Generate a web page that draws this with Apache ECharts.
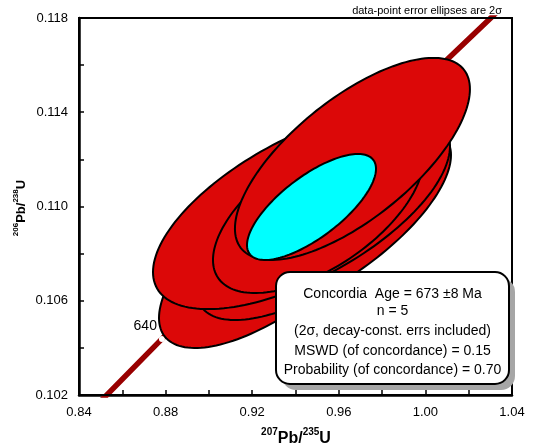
<!DOCTYPE html>
<html>
<head>
<meta charset="utf-8">
<script src="https://cdn.jsdelivr.net/npm/echarts@6/dist/echarts.min.js"></script>
<style>
  html, body { margin: 0; padding: 0; background: #fff; }
  #chart { width: 545px; height: 447px; }
</style>
</head>
<body>
<div id="chart"></div>
<script>
const FONT = '"Liberation Sans", Arial, Helvetica, sans-serif';

// Axis ranges
const xRange = [0.84, 1.04];
const yRange = [0.102, 0.118];

// Concordia curve (age in Ma, 207Pb/235U, 206Pb/238U)
const concAges = [600, 620, 640, 660, 680, 700, 720, 740];
const concX = [0.8057, 0.8416, 0.8783, 0.9155, 0.9536, 0.9925, 1.0321, 1.0726];
const concY = [0.09754, 0.10095, 0.10438, 0.10781, 0.11125, 0.11470, 0.11817, 0.12164];
const labelledAges = [640];

// Data-point error ellipses (2 sigma): centre, half-extent and correlation
const ellX   = [0.93238, 0.95316, 0.94277, 0.95039, 0.96630];
const ellSX  = [0.05543, 0.05866, 0.06859, 0.04850, 0.05427];
const ellY   = [0.10824, 0.10930, 0.10989, 0.10983, 0.11202];
const ellSY  = [0.004244, 0.004117, 0.004244, 0.003501, 0.004287];
const ellRho = [0.70, 0.70, 0.63, 0.60, 0.69];

// Concordia age ellipse
const ageX = [0.94739], ageSX = [0.02979], ageY = [0.10998], ageSY = [0.002249], ageRho = [0.72];

// Result box text
const resultLines = [
  'Concordia  Age = 673 \u00b18 Ma',
  'n = 5',
  '(2\u03c3, decay-const. errs included)',
  'MSWD (of concordance) = 0.15',
  'Probability (of concordance) = 0.70'
];
const noteText = 'data-point error ellipses are 2\u03c3';

const concData = concX.map((x, i) => [x, concY[i]]);
const tickData = labelledAges.map(a => {
  const i = concAges.indexOf(a);
  return { value: [concX[i], concY[i]], name: String(a) };
});
const ellData = ellX.map((x, i) => [x, ellSX[i], ellY[i], ellSY[i], ellRho[i]]);
const ageData = ageX.map((x, i) => [x, ageSX[i], ageY[i], ageSY[i], ageRho[i]]);

function ellipseRenderer(fill) {
  return function (params, api) {
    const x0 = api.value(0), sx = api.value(1), y0 = api.value(2), sy = api.value(3), r = api.value(4);
    const k = Math.sqrt(1 - r * r);
    const pts = [];
    const N = 160;
    for (let i = 0; i < N; i++) {
      const t = i / N * 2 * Math.PI;
      pts.push(api.coord([x0 + sx * Math.cos(t), y0 + sy * (r * Math.cos(t) + k * Math.sin(t))]));
    }
    return {
      type: 'polygon',
      shape: { points: pts },
      z2: params.dataIndex,
      style: { fill: fill, stroke: '#000', lineWidth: 2 }
    };
  };
}

const chart = echarts.init(document.getElementById('chart'), null, { renderer: 'canvas' });

const boxL = 276, boxT = 272, boxW = 233, boxH = 112;

chart.setOption({
  animation: false,
  backgroundColor: '#fff',
  grid: { left: 79, top: 18, right: 33, bottom: 52, show: false },
  xAxis: {
    type: 'value', min: xRange[0], max: xRange[1], interval: 0.02,
    axisLine: { show: true, lineStyle: { color: '#000', width: 2.5 } },
    axisTick: { show: true, inside: true, length: 5, lineStyle: { color: '#000', width: 1.5 } },
    axisLabel: {
      color: '#000', fontFamily: FONT, fontSize: 13, margin: 11,
      formatter: v => (Math.round(v * 100) % 4 === 0 ? v.toFixed(2) : '')
    },
    splitLine: { show: false }
  },
  yAxis: {
    type: 'value', min: yRange[0], max: yRange[1], interval: 0.002,
    axisLine: { show: true, lineStyle: { color: '#000', width: 2.5 } },
    axisTick: { show: true, inside: true, length: 5, lineStyle: { color: '#000', width: 1.5 } },
    axisLabel: {
      color: '#000', fontFamily: FONT, fontSize: 13, margin: 11,
      formatter: v => (Math.round(v * 1000) % 4 === 2 ? v.toFixed(3) : '')
    },
    splitLine: { show: false }
  },
  series: [
    {
      type: 'line', data: concData, showSymbol: false, symbol: 'none', clip: true,
      lineStyle: { color: '#990000', width: 5.5 }, z: 2, silent: true
    },
    {
      type: 'scatter', data: tickData, symbol: 'circle', symbolSize: 6, clip: true,
      itemStyle: { color: '#fff', borderWidth: 0, opacity: 1 }, z: 3,
      label: {
        show: true, position: 'left', distance: 2, offset: [0, -13],
        formatter: p => p.name, color: '#000', fontFamily: FONT, fontSize: 14, opacity: 1
      }
    },
    {
      type: 'custom', data: ellData, renderItem: ellipseRenderer('#dc0808'), clip: true, z: 4,
      encode: { x: 0, y: 2 }
    },
    {
      type: 'custom', data: ageData, renderItem: ellipseRenderer('#00ffff'), clip: true, z: 5,
      encode: { x: 0, y: 2 }
    }
  ],
  graphic: [
    // plot frame (top and right edges)
    { type: 'rect', z: 10, shape: { x: 79, y: 18, width: 433, height: 377 },
      style: { fill: 'none', stroke: '#000', lineWidth: 2 }, silent: true },
    // result box with shadow
    { type: 'rect', z: 20, shape: { x: boxL + 6, y: boxT + 6, width: boxW, height: boxH, r: 14 },
      style: { fill: '#a6a6a6' } },
    { type: 'rect', z: 21, shape: { x: boxL, y: boxT, width: boxW, height: boxH, r: 14 },
      style: { fill: '#fff', stroke: '#000', lineWidth: 2 } },
    ...resultLines.map((t, i) => ({
      type: 'text', z: 22, x: boxL + boxW / 2, y: [294, 311, 331, 351, 370][i],
      style: { text: t, fill: '#000', font: '14px ' + FONT, align: 'center', verticalAlign: 'middle' }
    })),
    // ellipse note
    { type: 'text', z: 22, x: 502, y: 11,
      style: { text: noteText, fill: '#000', font: '11px ' + FONT, align: 'right', verticalAlign: 'middle' } },
    // axis titles
    { type: 'text', z: 22, x: 296, y: 437,
      style: {
        text: '{s|207}{b|Pb/}{s|235}{b|U}', align: 'center', verticalAlign: 'middle', fill: '#000',
        rich: {
          s: { fontFamily: FONT, fontSize: 10, fontWeight: 'bold', verticalAlign: 'top', lineHeight: 20, fill: '#000' },
          b: { fontFamily: FONT, fontSize: 16, fontWeight: 'bold', lineHeight: 20, verticalAlign: 'bottom', fill: '#000' }
        }
      } },
    { type: 'text', z: 22, x: 20, y: 208, rotation: Math.PI / 2,
      style: {
        text: '{s|206}{b|Pb/}{s|238}{b|U}', align: 'center', verticalAlign: 'middle', fill: '#000',
        rich: {
          s: { fontFamily: FONT, fontSize: 8, fontWeight: 'bold', verticalAlign: 'top', lineHeight: 16, fill: '#000' },
          b: { fontFamily: FONT, fontSize: 13, fontWeight: 'bold', lineHeight: 16, verticalAlign: 'bottom', fill: '#000' }
        }
      } }
  ]
});
</script>
</body>
</html>
